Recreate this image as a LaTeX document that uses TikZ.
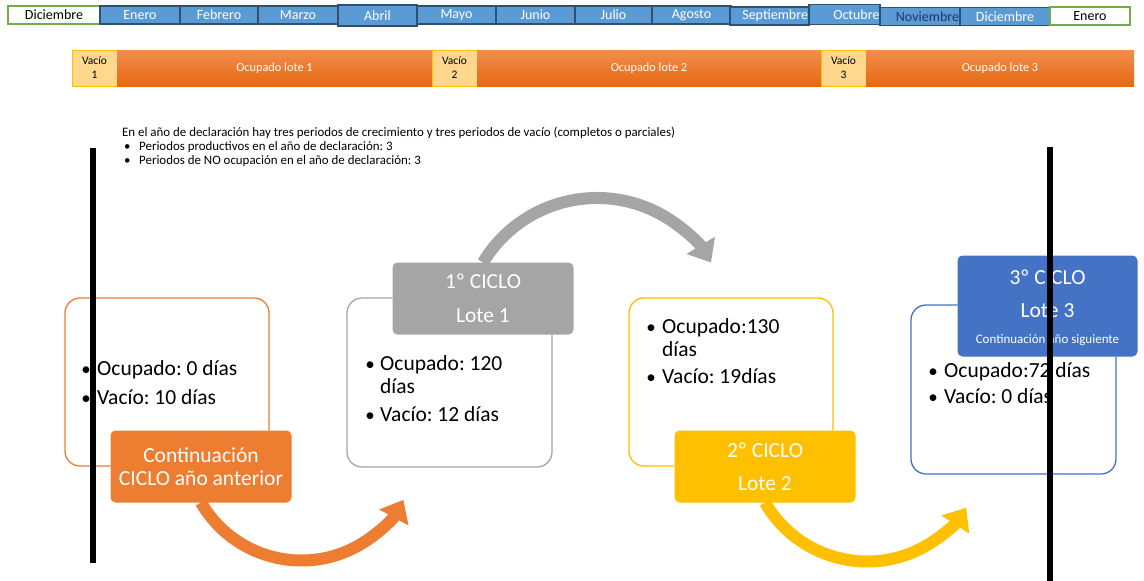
\documentclass[tikz,border=0pt]{standalone}
\usepackage{fontspec}
\setmainfont{Carlito}
\frenchspacing
\usetikzlibrary{arrows.meta}
\definecolor{mblue}{HTML}{5B9BD5}
\definecolor{mborder}{HTML}{2F5070}
\definecolor{mgreen}{HTML}{70AD47}
\definecolor{navytxt}{HTML}{1F3864}
\definecolor{vfill}{HTML}{FFD88E}
\definecolor{vborder}{HTML}{FFC000}
\definecolor{otop}{HTML}{F28D50}
\definecolor{obot}{HTML}{E5690F}
\definecolor{orangec}{HTML}{ED7D31}
\definecolor{grayc}{HTML}{A5A5A5}
\definecolor{yellowc}{HTML}{FFC000}
\definecolor{bluec}{HTML}{4472C4}
\begin{document}
\begin{tikzpicture}[x=1pt,y=-1pt,
  cell/.style={draw=mborder, fill=mblue, line width=1.2pt, text=white,
    font=\fontsize{14}{16}\selectfont, inner sep=0pt, minimum height=18pt},
  wcell/.style={cell, draw=mgreen, fill=white, text=black},
  vacio/.style={draw=vborder, fill=vfill, line width=1pt, align=center,
    font=\fontsize{11.5}{14}\selectfont, inner sep=0pt,
    minimum height=36pt, minimum width=45pt},
  ocup/.style={top color=otop, bottom color=obot, text=white,
    font=\fontsize{12.3}{14}\selectfont, inner sep=0pt, minimum height=36pt},
  outbox/.style={draw, rounded corners=15pt, line width=1.3pt, fill=white, inner sep=0pt},
  headbox/.style={rounded corners=5pt, draw=white, line width=1pt, inner sep=0pt},
  headtxt/.style={text=white, font=\fontsize{21.5}{24}\selectfont, inner sep=0pt, anchor=base},
  bodytxt/.style={text=black, font=\fontsize{21.5}{24}\selectfont, inner sep=0pt, anchor=base west},
  bul/.style={text=black, font=\fontsize{19}{24}\selectfont, inner sep=0pt, anchor=base},
  smalltxt/.style={font=\fontsize{12.9}{15}\selectfont, inner sep=0pt, anchor=base west},
  cyclearrow/.style={line width=12pt, -{Triangle[length=20pt,width=32pt]}},
  blackbar/.style={line width=5.5pt, black}
]
\useasboundingbox[fill=white] (0,0) rectangle (1144,581);

% ---- month row ----
\node[wcell, minimum width=92pt] (m0) at (54,15) {Diciembre};
\node[cell, minimum width=80pt] (m1) at (140,15) {Enero};
\node[cell, minimum width=78pt] (m2) at (219,15) {Febrero};
\node[cell, minimum width=80pt] (m3) at (298,15) {Marzo};
\node[cell, minimum width=79pt, minimum height=21pt] (m4) at (377.5,15.5) {Abril};
\node[cell, minimum width=79pt] (m5) at (456.5,15) {Mayo};
\node[cell, minimum width=79pt] (m6) at (535.5,15) {Junio};
\node[cell, minimum width=77pt] (m7) at (613.5,15) {Julio};
\node[cell, minimum width=79pt] (m8) at (691.5,15) {Agosto};
\node[cell, minimum width=79pt, text width=77pt, align=right] (m9) at (769.5,16) {Septiembre};
\node[cell, minimum width=71pt, minimum height=20pt, text width=70pt, align=right] (m10) at (844.5,14.5) {Octubre};
\node[cell, minimum width=80pt, text=navytxt, text width=78pt, align=right] (m11) at (920,16.5) {Noviembre};
\node[cell, minimum width=90pt] (m12) at (1005,16.5) {Diciembre};
\node[wcell, minimum width=80pt] (m13) at (1090,16) {Enero};

% ---- occupation bar ----
\node[vacio] (v1) at (94.5,68) {Vacío\\1};
\node[ocup, minimum width=315pt] (o1) at (274.5,68) {Ocupado lote 1};
\node[vacio] (v2) at (454.5,68) {Vacío\\2};
\node[ocup, minimum width=344pt] (o2) at (649,68) {Ocupado lote 2};
\node[vacio] (v3) at (843.5,68) {Vacío\\3};
\node[ocup, minimum width=268pt] (o3) at (1000,68) {Ocupado lote 3};

% ---- explanation text ----
\node[smalltxt] (p0) at (122,136) {En el año de declaración hay tres periodos de crecimiento y tres periodos de vacío (completos o parciales)};
\node[smalltxt] (p1b) at (124,150.5) {•};
\node[smalltxt] (p1) at (139,150.5) {Periodos productivos en el año de declaración: 3};
\node[smalltxt] (p2b) at (124,164.5) {•};
\node[smalltxt] (p2) at (139,164.5) {Periodos de NO ocupación en el año de declaración: 3};

% ---- outline boxes ----
\node[outbox, draw=orangec, minimum width=204pt, minimum height=168pt] (B0) at (167,382) {};
\node[outbox, draw=grayc, minimum width=205pt, minimum height=169pt] (B1) at (449.5,382.5) {};
\node[outbox, draw=yellowc, minimum width=204pt, minimum height=168pt] (B2) at (731,382) {};
\node[outbox, draw=bluec, minimum width=205pt, minimum height=169pt] (B3) at (1013.5,389.5) {};

% ---- header box frames (anchors for arrows) ----
\path (201,466.5) node[headbox, minimum width=180pt, minimum height=71pt] (F0) {};
\path (483,298.5) node[headbox, minimum width=180pt, minimum height=71pt] (F1) {};
\path (765,466.5) node[headbox, minimum width=180pt, minimum height=71pt] (F2) {};
\path (1047.5,306) node[headbox, minimum width=179pt, minimum height=100pt] (F3) {};

% ---- cycle arrows ----
\draw[cyclearrow, orangec] (F0.south) arc[start angle=150, end angle=28.5, radius=116];
\draw[cyclearrow, grayc] (F1.north) arc[start angle=211, end angle=329, radius=133];
\draw[cyclearrow, yellowc] (F2.south) arc[start angle=150, end angle=33, radius=118];

% ---- fill header boxes ----
\fill[orangec, rounded corners=5pt] (F0.south west) rectangle (F0.north east);
\fill[grayc, rounded corners=5pt] (F1.south west) rectangle (F1.north east);
\fill[yellowc, rounded corners=5pt] (F2.south west) rectangle (F2.north east);
\fill[bluec, rounded corners=5pt] (F3.south west) rectangle (F3.north east);

% ---- header texts ----
\node[headtxt] (h0a) at (201,462) {Continuación};
\node[headtxt] (h0b) at (201,485) {CICLO año anterior};
\node[headtxt] (h1a) at (483,288) {1º CICLO};
\node[headtxt] (h1b) at (483,322) {Lote 1};
\node[headtxt] (h2a) at (765,457) {2º CICLO};
\node[headtxt] (h2b) at (765,490) {Lote 2};
\node[headtxt] (h3a) at (1047.5,284) {3º CICLO};
\node[headtxt] (h3b) at (1047.5,317) {Lote 3};
\node[headtxt, font=\fontsize{13}{15}\selectfont] (h3c) at (1047.5,343) {Continuación año siguiente};

% ---- body texts ----
\node[bul] (b0ad) at (86,375) {•};
\node[bodytxt] (b0a) at (97,375) {Ocupado: 0 días};
\node[bul] (b0bd) at (86,404) {•};
\node[bodytxt] (b0b) at (97,404) {Vacío: 10 días};

\node[bul] (b1ad) at (370,370) {•};
\node[bodytxt] (b1a) at (380,370) {Ocupado: 120};
\node[bodytxt] (b1a2) at (380,393) {días};
\node[bul] (b1bd) at (370,421) {•};
\node[bodytxt] (b1b) at (380,421) {Vacío: 12 días};

\node[bul] (b2ad) at (651,333) {•};
\node[bodytxt] (b2a) at (662,333) {Ocupado:130};
\node[bodytxt] (b2a2) at (662,356) {días};
\node[bul] (b2bd) at (651,383) {•};
\node[bodytxt] (b2b) at (662,383) {Vacío: 19días};

\node[bul] (b3ad) at (933,377) {•};
\node[bodytxt] (b3a) at (944,377) {Ocupado:72 días};
\node[bul] (b3bd) at (933,403) {•};
\node[bodytxt] (b3b) at (944,403) {Vacío: 0 días};

% ---- year limit lines ----
\coordinate (L1t) at (93,148);
\coordinate (L1b) at (93,563);
\coordinate (L2t) at (1050,147);
\coordinate (L2b) at (1050,581);
\draw[blackbar] (L1t) -- (L1b);
\draw[blackbar] (L2t) -- (L2b);
\end{tikzpicture}
\end{document}
